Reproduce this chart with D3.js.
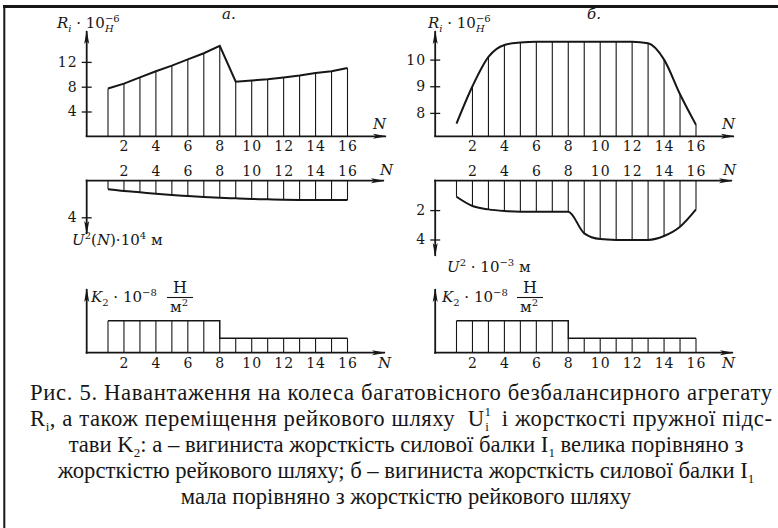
<!DOCTYPE html>
<html>
<head>
<meta charset="utf-8">
<script src="https://cdn.jsdelivr.net/npm/d3@7"></script>
<style>
body { margin: 0; background: #fff; }
svg text { font-family: "DejaVu Serif", serif; fill: #161616; white-space: pre; }
.tick text { font-size: 14px; letter-spacing: 1px; }
</style>
</head>
<body>
<svg id="chart" width="778" height="528"></svg>
<script>
// wheel numbers N and axis ticks
var wheels = [1, 2, 3, 4, 5, 6, 7, 8, 9, 10, 11, 12, 13, 14, 15, 16];
var xTicks = [2, 4, 6, 8, 10, 12, 14, 16];

// а. wheel loads R_i*10^-6 H, rail displacement U^2*10^4 m, foundation stiffness K2
var loadA = [7.7, 8.5, 9.5, 10.5, 11.4, 12.4, 13.4, 14.6, 8.8, 9.0, 9.2, 9.5, 9.8, 10.2, 10.5, 11.0];
var dispA = [0.94, 1.13, 1.27, 1.42, 1.56, 1.67, 1.78, 1.86, 1.93, 2.0, 2.04, 2.08, 2.11, 2.12, 2.12, 2.12];
var stiffA = [2, 2, 2, 2, 2, 2, 2, 0.9, 0.9, 0.9, 0.9, 0.9, 0.9, 0.9, 0.9, 0.9];

// б. same quantities, U^2*10^-3 m
var loadB = [7.6, 9.0, 10.1, 10.55, 10.64, 10.67, 10.67, 10.67, 10.67, 10.67, 10.67, 10.67, 10.61, 10.0, 8.7, 7.55];
var dispB = [1.09, 1.72, 1.95, 2.06, 2.11, 2.11, 2.11, 2.11, 3.58, 3.97, 4.03, 4.04, 4.03, 3.76, 3.13, 1.95];
var stiffB = [2, 2, 2, 2, 2, 2, 2, 0.9, 0.9, 0.9, 0.9, 0.9, 0.9, 0.9, 0.9, 0.9];

var loadTicksA = [4, 8, 12];
var loadTicksB = [8, 9, 10];
var dispTicksA = [4];
var dispTicksB = [2, 4];

// caption lines, pieces: [text, "sub"/"sup"/"under"]
var caption = [
    [["Рис. 5. Навантаження на колеса багатовісного безбалансирного агрегату"]],
    [["R"], ["i", "sub"], [", а також переміщення рейкового шляху  U"], ["1", "sup"], ["i", "under"], ["  і жорсткості пружної підс-"]],
    [["тави K"], ["2", "sub"], [": а – вигиниста жорсткість силової балки I"], ["1", "sub"], [" велика порівняно з"]],
    [["жорсткістю рейкового шляху; б – вигиниста жорсткість силової балки I"], ["1", "sub"]],
    [["мала порівняно з жорсткістю рейкового шляху"]]
];

var ink = "#161616";
var svg = d3.select("#chart");

svg.append("defs").append("marker")
    .attr("id", "arrow")
    .attr("viewBox", "0 0 14 6")
    .attr("refX", 13).attr("refY", 3)
    .attr("markerWidth", 14).attr("markerHeight", 6)
    .attr("markerUnits", "userSpaceOnUse")
    .attr("orient", "auto")
    .append("path")
    .attr("d", "M0,0.5L14,3L0,5.5L3,3Z")
    .attr("fill", ink);

// frame (top and left edges only)
svg.append("line").attr("x1", 3).attr("y1", 6.5).attr("x2", 778).attr("y2", 6.5)
    .attr("stroke", ink).attr("stroke-width", 3);
svg.append("line").attr("x1", 4.3).attr("y1", 5).attr("x2", 4.3).attr("y2", 528)
    .attr("stroke", ink).attr("stroke-width", 2);

function arrowLine(x1, y1, x2, y2) {
    svg.append("line")
        .attr("x1", x1).attr("y1", y1).attr("x2", x2).attr("y2", y2)
        .attr("stroke", ink).attr("stroke-width", 1.8)
        .attr("marker-end", "url(#arrow)");
}

// text with sub/superscripts; italic flag in third slot
function mathText(parent, segs, x, y, size, anchor, family, scriptRatio) {
    var ratio = scriptRatio || 0.66;
    var t = parent.append("text").attr("x", x).attr("y", y).attr("font-size", size);
    if (anchor) t.attr("text-anchor", anchor);
    if (family) t.style("font-family", family);
    var shift = 0, prev = null;
    segs.forEach(function (s) {
        var kind = s[1] || "";
        var target = (kind == "sub" || kind == "under") ? 0.24 * size : kind == "sup" ? -0.42 * size : 0;
        var ts = t.append("tspan").attr("dy", target - shift).text(s[0]);
        if (kind) ts.attr("font-size", Math.round(size * ratio));
        if (s[2]) ts.attr("font-style", "italic");
        if (kind == "under" && prev) ts.attr("dx", -prev.node().getComputedTextLength());
        shift = target;
        prev = ts;
    });
    return t;
}

var panels = [
    {
        x: d3.scaleLinear().domain([1, 16]).range([108, 347.5]),
        ax: 86.7, axEnd: 386, title: "а.", titleX: 222,
        load: loadA, loadY: d3.scaleLinear().domain([0, 12]).range([136.3, 61.9]),
        loadTicks: loadTicksA, loadCurve: d3.curveLinear, firstBar: 1, loadLabelX: 57,
        disp: dispA, dispY: d3.scaleLinear().domain([0, 4]).range([180.7, 217.3]),
        dispTicks: dispTicksA, dispEnd: 234,
        dispLabel: [["U", "", 1], ["2", "sup"], ["("], ["N", "", 1], [")·10"], ["4", "sup"], [" м"]],
        dispLabelX: 72, dispLabelY: 245,
        stiff: stiffA, kLabelX: 91, fracX: 180,
        nTop: 373, nMid: 380, nBot: 378
    },
    {
        x: d3.scaleLinear().domain([1, 16]).range([456.5, 696]),
        ax: 435.2, axEnd: 734, title: "б.", titleX: 587,
        load: loadB, loadY: d3.scaleLinear().domain([8, 10]).range([112.9, 59.6]),
        loadTicks: loadTicksB, loadCurve: d3.curveMonotoneX, firstBar: 2, loadLabelX: 428,
        disp: dispB, dispY: d3.scaleLinear().domain([0, 4]).range([180.7, 239.5]),
        dispTicks: dispTicksB, dispEnd: 256,
        dispLabel: [["U", "", 1], ["2", "sup"], [" · 10"], ["−3", "sup"], [" м"]],
        dispLabelX: 447, dispLabelY: 272,
        stiff: stiffB, kLabelX: 442, fracX: 530,
        nTop: 722, nMid: 723, nBot: 722
    }
];

var loadBase = 136.3, dispBase = 180.7, stiffBase = 352.7;
var stiffY = d3.scaleLinear().domain([0, 2]).range([stiffBase, 320.7]);

function xLabels(p, y, offset) {
    var g = svg.append("g")
        .attr("transform", "translate(0," + y + ")")
        .call(d3.axisBottom(p.x).tickValues(xTicks).tickSize(0).tickPadding(0).tickFormat(d3.format("d")));
    g.attr("font-family", null).attr("font-size", null);
    g.select(".domain").remove();
    g.selectAll("text").attr("y", offset).attr("dy", null);
}

function yTicks(p, scale, values) {
    var g = svg.append("g")
        .attr("transform", "translate(" + p.ax + ",0)")
        .call(d3.axisLeft(scale).tickValues(values).tickSize(5).tickPadding(4).tickFormat(d3.format("d")));
    g.attr("font-family", null).attr("font-size", null);
    g.select(".domain").remove();
    g.selectAll(".tick line").attr("x1", 5).attr("stroke", ink).attr("stroke-width", 1.3);
    g.selectAll("text").attr("letter-spacing", 0.5);
}

function bars(p, values, scale, base, from) {
    var pts = wheels.map(function (n, i) { return { n: n, v: values[i] }; });
    svg.append("g").selectAll("line")
        .data(pts.filter(function (d) { return d.n >= from; }))
        .join("line")
        .attr("x1", function (d) { return p.x(d.n); })
        .attr("x2", function (d) { return p.x(d.n); })
        .attr("y1", base)
        .attr("y2", function (d) { return scale(d.v); })
        .attr("stroke", ink).attr("stroke-width", 1.1);
    return pts;
}

panels.forEach(function (p) {
    // loads R_i
    var pts = bars(p, p.load, p.loadY, loadBase, p.firstBar);
    svg.append("path")
        .attr("d", d3.line()
            .x(function (d) { return p.x(d.n); })
            .y(function (d) { return p.loadY(d.v); })
            .curve(p.loadCurve)(pts))
        .attr("fill", "none").attr("stroke", ink).attr("stroke-width", 2);
    arrowLine(p.ax, loadBase, p.ax, 31);
    arrowLine(p.ax - 1, loadBase, p.axEnd, loadBase);
    yTicks(p, p.loadY, p.loadTicks);
    xLabels(p, loadBase, 15);
    svg.append("text").attr("x", p.nTop).attr("y", 129).attr("font-size", 15)
        .attr("font-style", "italic").text("N");
    svg.append("text").attr("x", p.titleX).attr("y", 19).attr("font-size", 15)
        .attr("font-style", "italic").text(p.title);
    mathText(svg, [["R", "", 1], ["i", "sub", 1], [" · 10"], ["−6", "sup"], ["H", "under", 1]],
        p.loadLabelX, 28, 15);

    // rail displacement U
    pts = bars(p, p.disp, p.dispY, dispBase, 1);
    svg.append("path")
        .attr("d", d3.line()
            .x(function (d) { return p.x(d.n); })
            .y(function (d) { return p.dispY(d.v); })
            .curve(d3.curveMonotoneX)(pts))
        .attr("fill", "none").attr("stroke", ink).attr("stroke-width", 2);
    arrowLine(p.ax, dispBase - 1, p.ax, p.dispEnd);
    arrowLine(p.ax - 1, dispBase, p.axEnd - 2, dispBase);
    yTicks(p, p.dispY, p.dispTicks);
    xLabels(p, dispBase, -4.7);
    svg.append("text").attr("x", p.nMid).attr("y", 175).attr("font-size", 15)
        .attr("font-style", "italic").text("N");
    mathText(svg, p.dispLabel, p.dispLabelX, p.dispLabelY, 15);

    // stiffness K2
    pts = bars(p, p.stiff, stiffY, stiffBase, 1);
    svg.append("path")
        .attr("d", d3.line()
            .x(function (d) { return p.x(d.n); })
            .y(function (d) { return stiffY(d.v); })
            .curve(d3.curveStepAfter)(pts))
        .attr("fill", "none").attr("stroke", ink).attr("stroke-width", 1.5);
    arrowLine(p.ax, stiffBase + 1, p.ax, 289);
    arrowLine(p.ax - 1, stiffBase, p.axEnd - 1, stiffBase);
    xLabels(p, stiffBase, 15.5);
    svg.append("text").attr("x", p.nBot).attr("y", 368).attr("font-size", 15)
        .attr("font-style", "italic").text("N");
    mathText(svg, [["K", "", 1], ["2", "sub"], [" · 10"], ["−8", "sup"]], p.kLabelX, 302, 15);
    svg.append("text").attr("x", p.fracX).attr("y", 293).attr("font-size", 16)
        .attr("text-anchor", "middle").text("Н");
    svg.append("line").attr("x1", p.fracX - 13).attr("x2", p.fracX + 13)
        .attr("y1", 297.5).attr("y2", 297.5).attr("stroke", ink).attr("stroke-width", 1.1);
    mathText(svg, [["м"], ["2", "sup"]], p.fracX - 1, 312, 15, "middle");
});

// caption: first two lines justified to the full width, the rest centred
var capFont = '"Liberation Serif", "Times New Roman", serif';
var capWidth = 742;
var probe = mathText(svg, caption[0], 0, -50, 20, null, capFont);
var capSize = 0.94 * 20 * capWidth / probe.node().getComputedTextLength();
probe.remove();

var capY = [400, 426, 452, 478, 504];
caption.forEach(function (segs, i) {
    var t = mathText(svg, segs, i < 2 ? 401 : 406, capY[i], capSize, "middle", capFont, 0.56);
    if (i < 2) t.attr("textLength", capWidth).attr("lengthAdjust", "spacing");
});
</script>
</body>
</html>
